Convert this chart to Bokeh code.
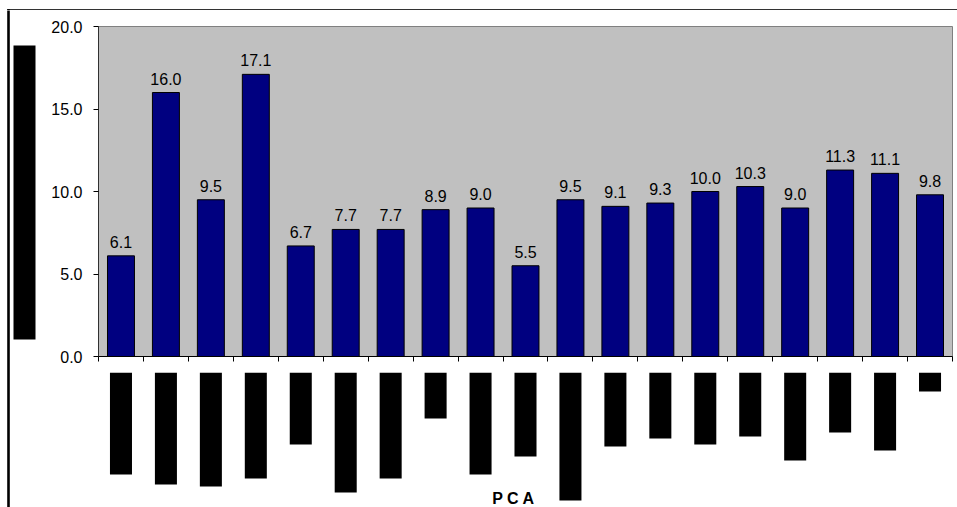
from bokeh.plotting import figure
from bokeh.layouts import column, row
from bokeh.models import (Range1d, FixedTicker, NumeralTickFormatter,
                          CustomJSTickFormatter, ColumnDataSource)
from bokeh.core.properties import value
from bokeh.embed import file_html
from bokeh.resources import INLINE

# Bar values, one per category (left to right)
values = [6.1, 16.0, 9.5, 17.1, 6.7, 7.7, 7.7, 8.9, 9.0, 5.5,
          9.5, 9.1, 9.3, 10.0, 10.3, 9.0, 11.3, 11.1, 9.8]
positions = list(range(1, len(values) + 1))
value_labels = [f"{v:.1f}" for v in values]

# Depth (px) of the blacked-out category names under the axis
name_block_depth = [102, 112, 114, 106, 72, 120, 106, 46, 102, 84,
                    128, 74, 66, 72, 64, 88, 60, 78, 19]

y_ticks = [0, 5, 10, 15, 20]
x_title = "P C A"

FONT = "Liberation Sans"
W, H = 957, 507
TOP_H = 10          # strip holding the chart-area top edge
LEFT_W = 45         # strip holding the left edge and the y title block
MAIN_H = 362        # bar chart panel (frame + tick area)
BOTTOM_H = H - TOP_H - MAIN_H


def bare(width, height, x_range, y_range):
    f = figure(width=width, height=height, output_backend="svg",
               toolbar_location=None, x_range=x_range, y_range=y_range,
               x_axis_location=None, y_axis_location=None,
               min_border=0)
    f.grid.visible = False
    f.outline_line_color = None
    f.background_fill_color = "white"
    f.border_fill_color = "white"
    return f


# --- chart-area top edge
top = bare(W, TOP_H, Range1d(0, W), Range1d(TOP_H, 0))
top.quad(left=[7, 7], right=[W, 9], top=[7, 7], bottom=[9, TOP_H],
         fill_color="black", line_color="black", line_width=0.6)

# --- left strip: chart-area left edge and blacked-out y-axis title
left = bare(LEFT_W, H - TOP_H, Range1d(0, LEFT_W), Range1d(H, TOP_H))
left.quad(left=[7], right=[9], top=[TOP_H], bottom=[H],
          fill_color="black", line_color="black", line_width=0.6)
left.quad(left=[13], right=[35], top=[45], bottom=[339],
          fill_color="black", line_color=None)

# --- main bar chart
x_range = Range1d(0.5, len(values) + 0.5)
p = figure(width=W - LEFT_W, height=MAIN_H, output_backend="svg",
           toolbar_location=None, x_range=x_range, y_range=Range1d(0, 20),
           min_border_left=53, min_border_right=5, min_border_top=16,
           min_border_bottom=16)
p.background_fill_color = "#C0C0C0"
p.border_fill_color = "white"
p.outline_line_color = "#808080"
p.outline_line_width = 1
p.grid.visible = False

src = ColumnDataSource(dict(x=positions, top=values, lab=value_labels))
p.vbar(x="x", top="top", width=0.6, source=src,
       fill_color="#000080", line_color="black", line_width=1)
p.text(x="x", y="top", text="lab", source=src, text_align="center",
       text_baseline="alphabetic", y_offset=-14,
       text_font=value(FONT), text_font_size="16px", text_color="black")

ya = p.yaxis[0]
ya.ticker = FixedTicker(ticks=y_ticks)
ya.formatter = NumeralTickFormatter(format="0.0")
ya.major_tick_in = 0
ya.major_tick_out = 5
ya.minor_tick_line_color = None
ya.axis_line_color = "#303030"
ya.major_tick_line_color = "black"
ya.major_label_text_font = FONT
ya.major_label_text_font_size = "16px"
ya.major_label_text_color = "black"
ya.major_label_standoff = 11

# x axis: tick marks between categories; names are drawn as blocks below
xa = p.xaxis[0]
xa.ticker = FixedTicker(ticks=[i + 0.5 for i in range(len(values) + 1)])
xa.formatter = CustomJSTickFormatter(code="return ''")
xa.major_label_text_font_size = "6px"
xa.major_label_standoff = 0
xa.major_tick_in = 0
xa.major_tick_out = 5
xa.minor_tick_line_color = None
xa.axis_line_color = "black"
xa.major_tick_line_color = "black"

# --- blacked-out category names and the x title
base = TOP_H + MAIN_H
bottom = figure(width=W - LEFT_W, height=BOTTOM_H, output_backend="svg",
                toolbar_location=None, x_range=x_range, y_range=Range1d(H, base),
                x_axis_location=None, y_axis_location=None,
                min_border_left=53, min_border_right=5, min_border_top=0,
                min_border_bottom=0)
bottom.grid.visible = False
bottom.outline_line_color = None
bottom.border_fill_color = "white"

bsrc = ColumnDataSource(dict(
    left=[x - 0.245 for x in positions], right=[x + 0.245 for x in positions],
    top=[base] * len(positions), bottom=[base + d for d in name_block_depth]))
bottom.quad(left="left", right="right", top="top", bottom="bottom", source=bsrc,
            fill_color="black", line_color=None)
bottom.text(x=[(len(values) + 1) / 2], y=[498], text=[x_title], x_offset=-12,
            text_align="center", text_baseline="alphabetic",
            text_font=value(FONT), text_font_size="16px",
            text_font_style="bold", text_color="black")

layout = column(top, row(left, column(p, bottom)))
open("out.html", "w").write(file_html(layout, INLINE))
